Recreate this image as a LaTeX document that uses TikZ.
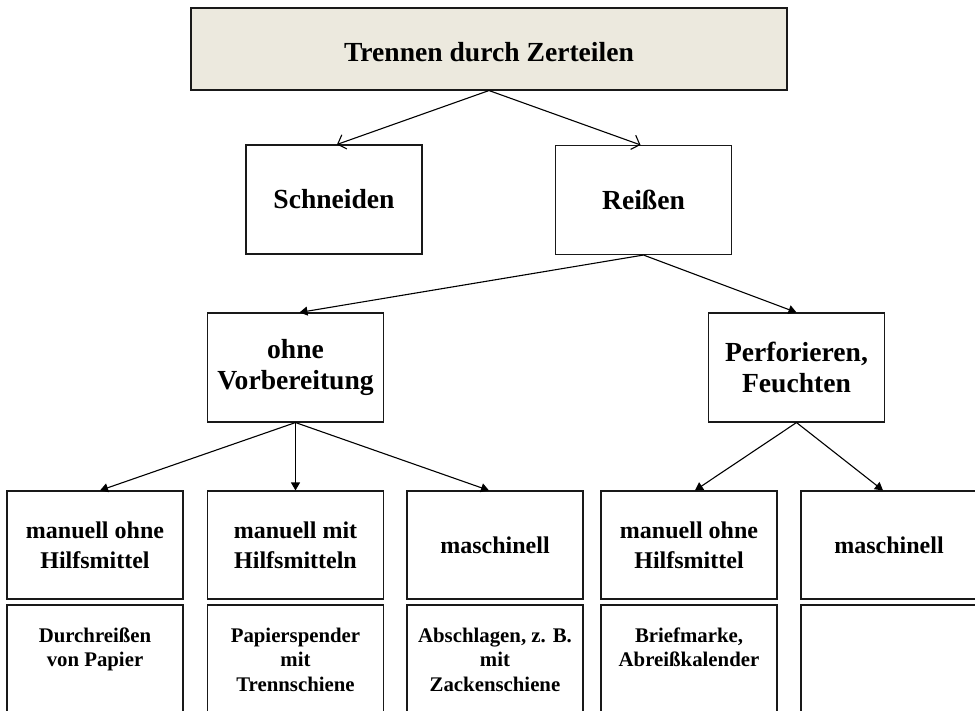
\documentclass[tikz,border=0pt]{standalone}
\usepackage{fontspec}
\setmainfont{Liberation Serif}
\usetikzlibrary{arrows.meta}

\definecolor{headfill}{RGB}{236,233,222}

\begin{document}
\begin{tikzpicture}[x=1pt,y=-1pt,
		line width=1.1pt,
		box/.style={draw=black!90, minimum width=176pt, minimum height=109pt,
			inner sep=0pt, align=center, font=\bfseries\fontsize{27.6}{31.5}\selectfont},
		leaf/.style={box, minimum height=108pt, font=\bfseries\fontsize{24}{30}\selectfont},
		desc/.style={draw=black!90, minimum width=176pt, minimum height=130pt, inner sep=0pt},
		desctext/.style={anchor=north, align=center, inner sep=0pt,
			font=\bfseries\fontsize{20.8}{24.3}\selectfont},
		headtext/.style={inner sep=0pt, font=\bfseries\fontsize{27.6}{31.5}\selectfont},
		open/.style={-{Straight Barb[length=7pt,width=15pt]}},
		filled/.style={-{Triangle[length=8pt,width=9pt]}}]
		\useasboundingbox (0,0) rectangle (975,711);
		\clip (0,0) rectangle (975,711);

		\node [box, fill=headfill, minimum width=596pt, minimum height=82pt] (top) at (489,49) {};
		\node [headtext] (title) at ([yshift=-3pt]top.center) {Trennen durch Zerteilen};
		\node [box] (schneiden) at (334,199.5) {Schneiden};
		\node [box] (reissen) at (643.5,200) {Reißen};
		\node [box] (ohne) at (295.5,367.5) {ohne\\Vorbereitung};
		\node [box] (perf) at (796.5,367.5) {Perforieren,\\Feuchten};

		\node [leaf] (m1) at (95,545) {manuell ohne\\Hilfsmittel};
		\node [leaf] (m2) at (295.5,545) {manuell mit\\Hilfsmitteln};
		\node [leaf] (m3) at (495,545) {maschinell};
		\node [leaf] (m4) at (689,545) {manuell ohne\\Hilfsmittel};
		\node [leaf] (m5) at (889,545) {maschinell};

		\node [desc] (e1) at (95,670) {};
		\node [desc] (e2) at (295.5,670) {};
		\node [desc] (e3) at (495,670) {};
		\node [desc] (e4) at (689,670) {};
		\node [desc] (e5) at (889,670) {};
		\node [desctext] (d1) at ([yshift=-23pt]e1.north) {Durchreißen\\von Papier};
		\node [desctext] (d2) at ([yshift=-23pt]e2.north) {Papierspender\\mit\\Trennschiene};
		\node [desctext] (d3) at ([yshift=-23pt]e3.north) {Abschlagen, z. B.\\mit\\Zackenschiene};
		\node [desctext] (d4) at ([yshift=-23pt]e4.north) {Briefmarke,\\Abreißkalender};

		\draw [open] (top.south) -- ([xshift=3pt]schneiden.north);
		\draw [open] (top.south) -- ([xshift=-3pt]reissen.north);

		\draw [filled] (reissen.south) -- ([xshift=4pt]ohne.north);
		\draw [filled] (reissen.south) -- (perf.north);

		\draw [filled] (ohne.south) -- ([xshift=5pt]m1.north);
		\draw [filled] (ohne.south) -- (m2.north);
		\draw [filled] (ohne.south) -- ([xshift=-6pt]m3.north);
		\draw [filled] (perf.south) -- ([xshift=6pt]m4.north);
		\draw [filled] (perf.south) -- ([xshift=-6pt]m5.north);
	\end{tikzpicture}
\end{document}
